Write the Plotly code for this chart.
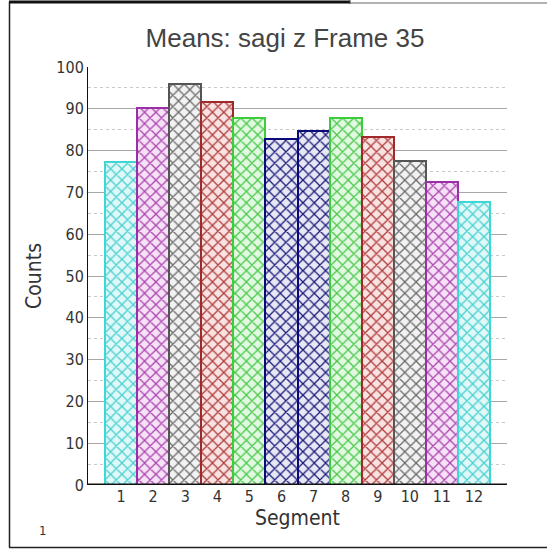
import plotly.graph_objects as go

segments = [str(i) for i in range(1, 13)]
counts = [77.2, 90.1, 95.9, 91.7, 87.9, 82.7, 84.8, 87.9, 83.3, 77.6, 72.6, 67.8]
line_colors = ["#3fd6d6", "#9a2fa8", "#555555", "#a02a2a", "#3ccc3c", "#0a0a78",
               "#0a0a78", "#3ccc3c", "#a02a2a", "#555555", "#9a2fa8", "#3fd6d6"]
fg_colors = ["#48d0d0", "#ac44b0", "#6a6a6a", "#b03c3c", "#48c848", "#1c1c7c",
             "#1c1c7c", "#48c848", "#b03c3c", "#6a6a6a", "#ac44b0", "#48d0d0"]
bg_colors = ["#e0f8f8", "#f6e2f6", "#f2f2f2", "#f8e2e2", "#e2f8e2", "#e8e8f4",
             "#e8e8f4", "#e2f8e2", "#f8e2e2", "#f2f2f2", "#f6e2f6", "#e0f8f8"]

FONT = "DejaVu Sans Condensed, Liberation Sans Narrow, Liberation Sans, sans-serif"

fig = go.Figure()
for i, (seg, val) in enumerate(zip(segments, counts)):
    fig.add_trace(go.Bar(
        x=[i + 1], y=[val], name=seg,
        width=1.0,
        marker=dict(
            color=bg_colors[i],
            line=dict(color=line_colors[i], width=2),
            pattern=dict(shape="x", fgcolor=fg_colors[i], bgcolor=bg_colors[i], size=8,
                         solidity=0.3, fgopacity=1),
        ),
        showlegend=False,
    ))

W, H = 547, 549
L, R, T, B = 88, 40, 67, 64
pw, ph = W - L - R, H - T - B

def px(x):
    return (x - L) / pw

def py(y):
    return (H - B - y) / ph

shapes = [
    dict(type="line", xref="paper", yref="paper", x0=px(9.5), x1=px(9.5), y0=py(2), y1=py(547.5),
         line=dict(color="#222222", width=1.5)),
    dict(type="line", xref="paper", yref="paper", x0=px(9), x1=px(350), y0=py(2), y1=py(2),
         line=dict(color="#111111", width=3)),
    dict(type="line", xref="paper", yref="paper", x0=px(350), x1=px(547), y0=py(3), y1=py(3),
         line=dict(color="#666666", width=1)),
    dict(type="line", xref="paper", yref="paper", x0=px(350), x1=px(350), y0=py(0), y1=py(4),
         line=dict(color="#444444", width=1)),
    dict(type="line", xref="paper", yref="paper", x0=px(9), x1=px(547), y0=py(547.5), y1=py(547.5),
         line=dict(color="#222222", width=1.5)),
]

fig.update_layout(
    width=W, height=H,
    margin=dict(l=L, r=R, t=T, b=B, pad=0),
    paper_bgcolor="white", plot_bgcolor="white",
    barmode="overlay",
    bargap=0,
    title=dict(text="Means: sagi z Frame 35", x=285 / W, xanchor="center",
               y=1 - 38 / H, yanchor="middle",
               font=dict(family="Liberation Sans, sans-serif", size=26, color="#444444")),
    xaxis=dict(
        range=[-0.03, 13.03], tickmode="array", tickvals=list(range(1, 13)), ticktext=segments,
        showgrid=False, zeroline=False, showline=False, ticks="",
        tickfont=dict(family=FONT, size=16, color="#333333"),
        title=dict(text="Segment", font=dict(family=FONT, size=21, color="#333333"), standoff=2),
    ),
    yaxis=dict(
        range=[0, 100], dtick=10, showgrid=True, gridcolor="#a8a8a8", gridwidth=1,
        zeroline=False, showline=True, linecolor="#111111", linewidth=1, ticks="",
        minor=dict(dtick=5, showgrid=True, gridcolor="#c8c8c8", griddash="dot", gridwidth=1),
        tickfont=dict(family=FONT, size=16, color="#333333"),
        title=dict(text="Counts", font=dict(family=FONT, size=21, color="#333333"), standoff=8),
    ),
    shapes=shapes,
    annotations=[
        dict(text="1", xref="paper", yref="paper", x=px(37), y=py(540), showarrow=False,
             font=dict(family=FONT, size=13, color="#333333")),
    ],
)

# thick baseline along the x axis
fig.add_shape(type="line", xref="paper", yref="y", x0=0, x1=1, y0=0, y1=0,
              line=dict(color="#111111", width=3))

fig.write_html("out.html")
